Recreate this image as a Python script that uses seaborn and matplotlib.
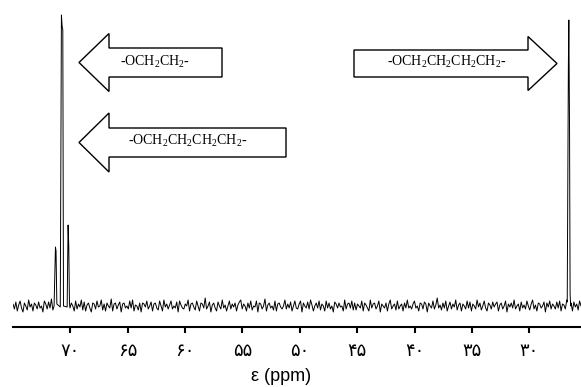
import numpy as np
import pandas as pd
import matplotlib
matplotlib.use("Agg")
import matplotlib.pyplot as plt
import matplotlib.transforms as mtransforms
from matplotlib.patches import Polygon
import seaborn as sns

# Axis (ppm, reversed) and Persian tick labels
x_start, x_end = 75.0, 25.5
tick_values = [70, 65, 60, 55, 50, 45, 40, 35, 30]
tick_labels = ["۷۰", "۶۵", "۶۰", "۵۵", "۵۰", "۴۵", "۴۰", "۳۵", "۳۰"]

# Baseline noise, left to right
noise = [
    2, -3, 4, -5, 1, 5, -2, -6, 3, 0, -4, 6, -1, 2, -5, 3, 1, -3, 4, -2,
    0, -6, 5, 2, -3, 4, -2, 7, -4, 1, 3, -2, -5, 5, 0, -3, 2, 4, -6, 1,
    -2, 3, 0, -5, 5, -3, 2, -1, 6, -4, 4, -5, 1, 3, -2, -6, 3, 2, -3, 5,
    -1, 0, 6, -4, 2, -5, 3, 0, -2, 7, -5, 2, 3, -3, 1, 4, -6, 2, 3, -2,
    0, -3, 5, -2, 6, -5, 1, 0, -4, 3, -6, 3, 2, -1, 5, -3, 0, 4, -5, 2,
    3, -2, -4, 5, 0, -5, 6, -1, 2, -3, 1, 5, -3, 0, -2, 4, -6, 5, 1, -2,
    -3, 2, 0, 6, -5, 2, 3, -1, -4, 5, 0, -5, 3, 2, -2, 8, -3, 0, 4, -6,
    1, 3, -2, -5, 4, 0, -3, 6, -2, 1, -5, 0, 5, -3, 2, -1, 3, -5, 1, 4,
    6, -3, 2, 0, -5, 3, -2, 5, -4, 0, -1, 5, -6, 3, 2, -3, 0, 7, -5, 1,
    3, -2, 0, -4, 5, -5, 2, 3, -1, -3, 0, 6, -3, 2, -2, 4, -5, 0, 5, -2,
    -3, 2, 5, -6, 3, 0, -2, 4, -3, 6, 1, -5, 0, 3, -2, 5, -4, 2, 0, -5,
    5, -2, 3, -3, 0, -6, 4, 2, -2, 3, -1, 0, -5, 6, -3, 2, 3, -2, 5, -4,
    3, -4, 2, 0, -2, 5, -5, 3, 1, -2, -5, 6, -2, 2, 3, -3, 0, 5, -6, 2,
    0, -2, 3, -5, 2, 6, -3, 0, 2, -4, 5, -3, 0, 2, -5, 3, -2, 6, -2, 0,
    -3, 2, 5, -2, 0, -5, 3, 2, -3, 4, 2, -6, 3, 0, -2, 5, -3, 1, 8, -2,
    1, -4, 3, -2, 5, -5, 0, 4, -3, 2, -1, 6, -4, 1, 3, -5, 2, 0, -3, 5,
    -2, 4, -5, 2, 0, -3, 6, -1, 3, -4, 0, 5, -2, -5, 3, 1, -3, 4, -1, 2,
    4, -5, 1, 3, -3, 0, 5, -6, 2, -1, 3, -2, 6, -3, 0, 2, -5, 4, -2, 1,
    -3, 5, 0, -4, 2, 6, -3, 1, -5, 3, 2, -2, 0, 4, -6, 3, -1, 5, -3, 2,
    0, -3, 4, -2, 5, -5, 2, 1, -3, 6, -2, 0, 3, -5, 4, -1, 2, -4, 5, 0,
]

# Peak outline points (ppm, intensity)
peak_ppm = [71.42, 71.3, 71.25, 71.18, 70.88, 70.78, 70.72, 70.66, 70.6,
            70.28, 70.2, 70.14, 70.08, 26.7, 26.6, 26.56, 26.5, 26.45, 26.4]
peak_int = [0, 59, 55, 2, -1, 291, 280, 276, 0,
            -1, 81, 60, 3, 4, 240, 286, 180, 12, 0]
peak_windows = [(70.08, 71.42), (26.4, 26.7)]

# Labelled arrows
arrow_labels = [r"-OCH$_\mathrm{2}$CH$_\mathrm{2}$-",
                r"-OCH$_\mathrm{2}$CH$_\mathrm{2}$CH$_\mathrm{2}$CH$_\mathrm{2}$-",
                r"-OCH$_\mathrm{2}$CH$_\mathrm{2}$CH$_\mathrm{2}$CH$_\mathrm{2}$-"]

sns.set_theme(style="white")
plt.rcParams["font.family"] = ["DejaVu Sans"]
plt.rcParams["mathtext.fontset"] = "custom"
plt.rcParams["mathtext.rm"] = "Liberation Serif"

base = pd.DataFrame({"ppm": np.linspace(x_start, x_end, len(noise)),
                     "intensity": noise})
for lo, hi in peak_windows:
    base = base[~base["ppm"].between(lo, hi)]
peaks = pd.DataFrame({"ppm": peak_ppm, "intensity": peak_int})
df = pd.concat([base, peaks]).sort_values("ppm", ascending=False)

fig = plt.figure(figsize=(5.81, 3.87), dpi=100)
ax = fig.add_axes([13 / 581, 60 / 387, 568 / 581, 327 / 387])
sns.lineplot(data=df, x="ppm", y="intensity", sort=False, estimator=None,
             color="black", lw=0.7, ax=ax)

ax.set_xlim(x_start, x_end)
ax.set_ylim(-21, 306)
ax.set_xticks(tick_values)
ax.set_xticklabels(tick_labels)
ax.set_yticks([])
ax.set_ylabel("")
for side in ["top", "left", "right"]:
    ax.spines[side].set_visible(False)
ax.spines["bottom"].set_linewidth(1.5)
ax.spines["bottom"].set_color("black")
ax.tick_params(axis="x", direction="out", length=4.5, width=1.5, pad=6,
               labelsize=13, colors="black", bottom=True)
ax.set_xlabel("ε (ppm)", fontsize=13, family="Liberation Sans", color="black")
ax.xaxis.set_label_coords(0.472, -0.125)

# pixel coordinates from the top-left corner
pix = mtransforms.Affine2D().scale(0.01, -0.01).translate(0, 3.87) + fig.dpi_scale_trans


def left_arrow(tip_x, y, base_x, end_x, shaft, head):
    return [(tip_x, y), (base_x, y - head), (base_x, y - shaft), (end_x, y - shaft),
            (end_x, y + shaft), (base_x, y + shaft), (base_x, y + head)]


def right_arrow(start_x, y, base_x, tip_x, shaft, head):
    return [(start_x, y - shaft), (base_x, y - shaft), (base_x, y - head), (tip_x, y),
            (base_x, y + head), (base_x, y + shaft), (start_x, y + shaft)]


shapes = [left_arrow(79, 62.5, 109, 222, 14.5, 29),
          left_arrow(79, 142.5, 109, 286, 14.5, 29.5),
          right_arrow(354, 63.5, 528, 557, 13.5, 27)]
text_pos = [(155, 62), (188, 141), (447, 62)]

for shape, (tx, ty), label in zip(shapes, text_pos, arrow_labels):
    fig.add_artist(Polygon(shape, closed=True, fc="white", ec="black", lw=1,
                           transform=pix))
    fig.text(tx, ty, label, transform=pix, ha="center", va="center",
             fontsize=10, family="Liberation Serif", color="black")

fig.savefig("out.png", dpi=100)
